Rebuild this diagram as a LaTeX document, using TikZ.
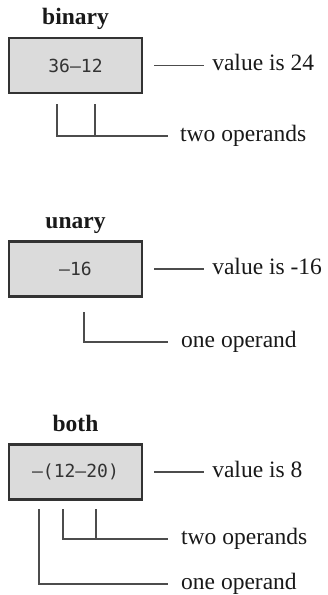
\documentclass[tikz,border=0pt]{standalone}
\usepackage{fontspec}
\setmainfont{Liberation Serif}
\newfontfamily\exprfont{DejaVu Sans Mono}

\begin{document}
\begin{tikzpicture}%
	[x=1pt, y=1pt,
	exprbox/.style={draw=black!80, line width=2.2pt, fill=black!14, minimum width=133pt, minimum height=55pt, inner sep=0pt, text=black!80, font=\exprfont\fontsize{18}{20}\selectfont},
	heading/.style={anchor=base, text=black!90, font=\bfseries\fontsize{23.5}{26}\selectfont},
	note/.style={anchor=west, inner sep=0pt, text height=15pt, text depth=5pt, text=black!90, font=\fontsize{23.5}{26}\selectfont},
	lead/.style={draw=black!70, line width=1.2pt}]
%
\useasboundingbox (0,0) rectangle (328,-595);
%%
%% binary
%%
\node[exprbox] (b1) at (75.5,-65.5) {36–12};
\node[heading] (h1) at ([yshift=12pt]b1.north) {binary};
\node[note] (v1) at ([xshift=69pt]b1.east) {value is 24};
\node[note] (o1) at (180,-136) {two operands};
\coordinate (p11) at (57,-104);
\coordinate (p12) at (95,-104);
\draw[lead] ([xshift=11pt]b1.east) -- ([xshift=-8pt]v1.west);
\draw[lead] (p11) |- ([xshift=-12pt]o1.west);
\draw[lead] (p12) -- (p12 |- o1.west);
%%
%% unary
%%
\node[exprbox] (b2) at (75.5,-269) {–16};
\node[heading] (h2) at ([yshift=12pt]b2.north) {unary};
\node[note] (v2) at ([xshift=69pt]b2.east) {value is -16};
\node[note] (o2) at (181,-342) {one operand};
\coordinate (p21) at (84,-312);
\draw[lead] ([xshift=11pt]b2.east) -- ([xshift=-8pt]v2.west);
\draw[lead] (p21) |- ([xshift=-13pt]o2.west);
%%
%% both
%%
\node[exprbox] (b3) at (75.5,-472) {–(12–20)};
\node[heading] (h3) at ([yshift=12pt]b3.north) {both};
\node[note] (v3) at ([xshift=69pt]b3.east) {value is 8};
\node[note] (o3) at (181,-539) {two operands};
\node[note] (o4) at (181,-584) {one operand};
\coordinate (p31) at (39,-509);
\coordinate (p32) at (63,-509);
\coordinate (p33) at (96,-509);
\draw[lead] ([xshift=11pt]b3.east) -- ([xshift=-8pt]v3.west);
\draw[lead] (p32) |- ([xshift=-13pt]o3.west);
\draw[lead] (p33) -- (p33 |- o3.west);
\draw[lead] (p31) |- ([xshift=-13pt]o4.west);
\end{tikzpicture}
\end{document}
